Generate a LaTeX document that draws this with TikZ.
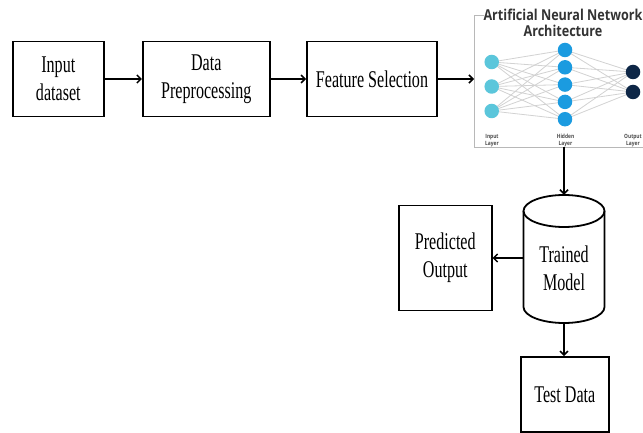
\documentclass[tikz,border=0pt]{standalone}
\usepackage{fontspec}
\usetikzlibrary{arrows.meta,calc}

% Narrow serif used for all the block labels
\newfontfamily\boxfont[FakeStretch=0.67]{Liberation Serif}
% Sans family for the network panel
\newfontfamily\panelfont[FakeStretch=0.84]{Open Sans}

\definecolor{incol}{HTML}{5BC6DB}
\definecolor{hidcol}{HTML}{1B9BE0}
\definecolor{outcol}{HTML}{0D2646}
\definecolor{wirecol}{HTML}{D2D2D2}
\definecolor{framecol}{HTML}{B8B8B8}
\definecolor{paneltext}{HTML}{333333}

\tikzset{
  stage/.style={draw, line width=1.8pt, align=center, inner sep=0pt,
    font=\boxfont\fontsize{24}{28}\selectfont},
  cylbody/.style={draw=none, minimum width=81pt, minimum height=128pt, inner sep=0pt},
  cyltext/.style={align=center, inner sep=0pt, font=\boxfont\fontsize{24}{28}\selectfont},
  arr/.style={-{Straight Barb[length=4pt,width=8pt,line width=1.5pt]}, line width=1.9pt},
  neuron/.style={circle, minimum size=14.5pt, inner sep=0pt},
  wire/.style={draw=wirecol, line width=0.8pt},
  paneltitle/.style={align=center, inner sep=0pt, text=paneltext,
    font=\panelfont\bfseries\fontsize{15}{16}\selectfont},
  layerlab/.style={align=center, inner sep=0pt, text=black!70,
    font=\panelfont\bfseries\fontsize{5.8}{6.4}\selectfont},
}

\begin{document}
\begin{tikzpicture}[x=1pt, y=-1pt]
  \useasboundingbox[fill=white] (0,0) rectangle (643,433);

  % ---- pipeline blocks ----
  \node[stage, minimum width=91pt,  minimum height=75pt] (inp)  at (58.3,79)  {Input\\dataset};
  \node[stage, minimum width=127pt, minimum height=75pt] (prep) at (206.3,79) {Data\\Preprocessing};
  \node[stage, minimum width=130pt, minimum height=75pt] (feat) at (372,79)   {Feature Selection};

  % ---- network panel ----
  \draw[framecol, line width=0.8pt] (484,15) -- (474,15) -- (474,147) -- (643,147);
  \coordinate (annin)  at (474,79);
  \coordinate (annbot) at (564,147);
  \node[paneltitle] (anntitle) at (563,23) {Artificial Neural Network\\Architecture};

  \foreach \i/\y in {1/62, 2/86.5, 3/111}
    \node[neuron] (in\i) at (491.7,\y) {};
  \foreach \i/\y in {1/50, 2/67.3, 3/84.6, 4/101.9, 5/119.2}
    \node[neuron] (hid\i) at (565,\y) {};
  \foreach \i/\y in {1/72, 2/92}
    \node[neuron] (out\i) at (633,\y) {};

  % wires first, then the neurons on top of them
  \foreach \a in {1,2,3}
    \foreach \b in {1,...,5}
      \draw[wire] (in\a.center) -- (hid\b.center);
  \foreach \b in {1,...,5}
    \foreach \c in {1,2}
      \draw[wire] (hid\b.center) -- (out\c.center);
  \foreach \i in {1,2,3} \fill[incol] (in\i) circle (7.25pt);
  \foreach \i in {1,...,5} \fill[hidcol] (hid\i) circle (7.25pt);
  \foreach \i in {1,2} \fill[outcol] (out\i) circle (7.25pt);

  \node[layerlab] (labin)  at (492,140.5) {Input\\Layer};
  \node[layerlab] (labhid) at (565.5,140.5) {Hidden\\Layer};
  \node[layerlab] (labout) at (633,140.5) {Output\\Layer};

  % ---- trained model cylinder ----
  \node[cylbody] (model) at (564,259) {};
  \draw[line width=1.8pt, fill=white]
    (523.5,211) -- (523.5,307)
    arc[start angle=180, end angle=0, x radius=40.5, y radius=16]
    -- (604.5,211);
  \draw[line width=1.8pt] (564,211) ellipse [x radius=40.5, y radius=16];
  \node[cyltext] (modeltxt) at (564,268) {Trained\\Model};

  \node[stage, minimum width=92.7pt, minimum height=105pt] (pred) at (445.3,258) {Predicted\\Output};
  \node[stage, minimum width=88.3pt, minimum height=75pt]  (test) at (564.8,394.5) {Test Data};

  % ---- connectors ----
  \draw[arr] (inp) -- (prep);
  \draw[arr] (prep) -- (feat);
  \draw[arr] (feat) -- (annin);
  \draw[arr] (annbot) -- (model.north);
  \draw[arr] (model.west |- pred.east) -- (pred.east);
  \draw[arr] (model.south) -- (model.south |- test.north);
\end{tikzpicture}
\end{document}
